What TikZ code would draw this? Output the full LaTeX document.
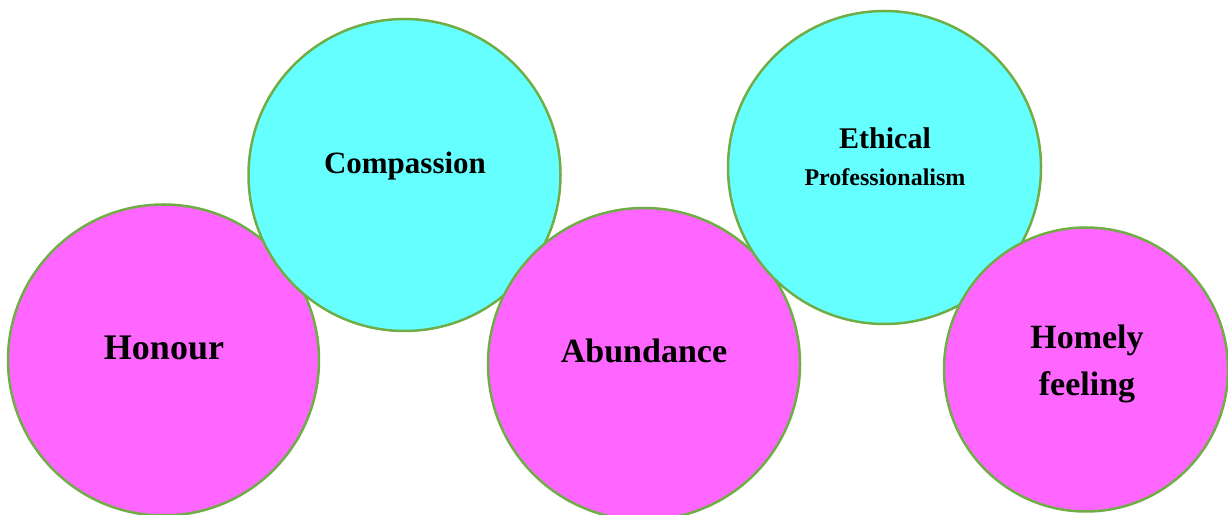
\documentclass[tikz,border=0pt]{standalone}
\usepackage{fontspec}
\setmainfont{Liberation Serif}
\usetikzlibrary{positioning}

\definecolor{pinkfill}{HTML}{FF66FF}
\definecolor{cyanfill}{HTML}{66FFFF}
\definecolor{rimgreen}{HTML}{70AD47}

\tikzset{
  value/.style={circle,draw=rimgreen,line width=2.5pt,inner sep=0pt},
  pinkval/.style={value,fill=pinkfill},
  cyanval/.style={value,fill=cyanfill},
  word/.style={anchor=base,font=\bfseries,inner sep=0pt}
}

\begin{document}
\begin{tikzpicture}[x=1pt,y=1pt]
  \useasboundingbox (0,0) rectangle (1228,514);

  % Circles, back to front
  \node[pinkval,minimum size=311pt] (honour) at (163.5,154)   {};   % left, low
  \node[cyanval,minimum size=312pt] (compas) at (404.5,339)   {};   % upper left
  \node[pinkval,minimum size=312pt] (abund)  at (644,150)     {};   % middle, low
  \node[cyanval,minimum size=313pt] (ethic)  at (884.5,346.5) {};   % upper right
  \node[pinkval,minimum size=284pt] (homely) at (1086,144.5)  {};   % right, low

  % Labels
  \node[word,font=\bfseries\fontsize{36}{40}\selectfont] (thonour) at (164,154) {Honour};
  \node[word,font=\bfseries\fontsize{31}{36}\selectfont] (tcompas) at (405,340) {Compassion};
  \node[word,font=\bfseries\fontsize{34}{40}\selectfont] (tabund)  at (644,151) {Abundance};
  \node[word,font=\bfseries\fontsize{30}{36}\selectfont] (tethic)  at (885,365) {Ethical};
  \node[word,font=\bfseries\fontsize{24}{28}\selectfont] (tprof)   at (885,328) {Professionalism};
  \node[word,font=\bfseries\fontsize{34}{40}\selectfont] (thomely) at (1087,165) {Homely};
  \node[word,font=\bfseries\fontsize{34}{40}\selectfont] (tfeel)   at (1087,118) {feeling};

\end{tikzpicture}
\end{document}
